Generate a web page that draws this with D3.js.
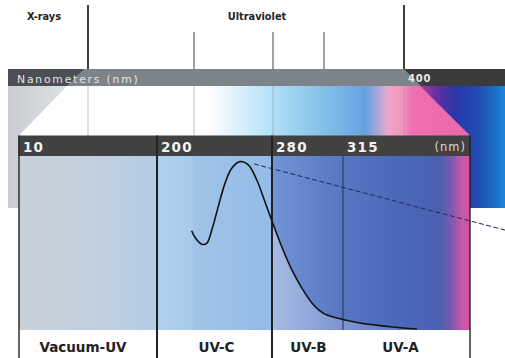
<!DOCTYPE html>
<html><head><meta charset="utf-8">
<script src="https://cdn.jsdelivr.net/npm/d3@7"></script>
<style>html,body{margin:0;padding:0;background:#fff;}svg{display:block;}</style>
</head><body>
<script>
// ---- data ----
const boundaries = [10, 200, 280, 315, 400];          // nm
const headerLabels = ["10", "200", "280", "315"];
const unitLabel = "(nm)";
const bandNames = ["Vacuum-UV", "UV-C", "UV-B", "UV-A"];
const regionNames = ["X-rays", "Ultraviolet"];
const barTitle = "Nanometers (nm)";
const barEndLabel = "400";
// solid absorption curve (nm, relative value)
const curveNm  = [224.1, 226.4, 231.1, 234.6, 238.1, 242.6, 247.3, 252.0, 257.7, 263.5, 269.4, 275.1, 280.1, 284.8, 289.8, 294.8, 300.5, 305.4, 312.0, 326.4, 348.5, 364.5];
const curveVal = [0.567, 0.530, 0.490, 0.495, 0.571, 0.705, 0.838, 0.924, 0.962, 0.943, 0.857, 0.733, 0.619, 0.476, 0.343, 0.238, 0.143, 0.095, 0.069, 0.040, 0.017, 0.006];
// dashed straight line
const dashNm  = [267.5, 423.4];
const dashVal = [0.949, 0.571];

// ---- setup ----
const W = 505, H = 358;
const svg = d3.select("body").append("svg").attr("width", W).attr("height", H);
const defs = svg.append("defs");

const xTop = d3.scaleLinear().domain(boundaries).range([88, 194, 273, 324, 404]);
const xIn  = d3.scaleLinear().domain(boundaries).range([19, 157, 272, 343, 470]);
const y    = d3.scaleLinear().domain([0, 1]).range([330, 155]);

function grad(id, x1, x2, stops) {
  const g = defs.append("linearGradient").attr("id", id)
    .attr("gradientUnits", "userSpaceOnUse").attr("x1", x1).attr("x2", x2).attr("y1", 0).attr("y2", 0);
  stops.forEach(s => g.append("stop").attr("offset", (s[0] - x1) / (x2 - x1)).attr("stop-color", s[1]).attr("stop-opacity", s[2] == null ? 1 : s[2]));
}
const L = 8, R = W;
const barTop = 69, barBot = 86, bandBot = 208, headTop = 135.5, headBot = 156;

grad("band", L, R, [[L,"#ffffff"],[208,"#ffffff"],[270,"#b4e2f8"],[285,"#a4d8f2"],[330,"#80bce8"],[366,"#68a0e0"],[378,"#a8a8d8"],[388,"#f0a8cc"],[403,"#f292c0"],[412,"#f070b0"],[R,"#e860a8"]]);
grad("rwedge", 420, R, [[420,"#b83898"],[438,"#6030a0"],[455,"#2a36a8"],[475,"#2248b0"],[492,"#1a68c0"],[R,"#1888d8"]]);
grad("lwedge", L, 67, [[L,"#c9cdd2"],[67,"#dde0e4"]]);
grad("box", 19, 470, [[19,"#c9d0d8"],[90,"#c2d0de"],[155,"#b4cce6"],[157,"#b0d0ee"],[192,"#a8cbec"],[193,"#a0c4e8"],[270,"#94bce6"],[273,"#7294d4"],[343,"#5676c2"],[400,"#4a68b8"],[440,"#4a60b0"],[452,"#8058b0"],[462,"#c858a8"],[470,"#d850a0"]]);
grad("under", 19, 470, [[19,"#ffffff",0],[272,"#ffffff",0],[273,"#ffffff",0.36],[330,"#ffffff",0.25],[420,"#ffffff",0.1]]);

// spectrum band
svg.append("rect").attr("x", L).attr("y", barBot).attr("width", R - L).attr("height", bandBot - barBot).attr("fill", "url(#band)");
// left wedge
svg.append("path").attr("d", `M${L},${barBot}L67,${barBot}L${xIn(10)},${headTop}L${xIn(10)},${bandBot}L${L},${bandBot}Z`).attr("fill", "url(#lwedge)");
// right wedge
svg.append("path").attr("d", `M420,${barBot}L${R},${barBot}L${R},${bandBot}L${xIn(400)},${bandBot}L${xIn(400)},${headTop}Z`).attr("fill", "url(#rwedge)");

// top gray bar
svg.append("rect").attr("x", L).attr("y", barTop).attr("width", R - L).attr("height", barBot - barTop).attr("fill", "#7d8489");
svg.append("path").attr("d", `M${L},${barTop}L84,${barTop}L67,${barBot}L${L},${barBot}Z`).attr("fill", "#4b4e52");
svg.append("path").attr("d", `M${xTop(400)},${barTop}L${R},${barTop}L${R},${barBot}L${xTop(400)+17},${barBot}Z`).attr("fill", "#3b3b3d");

// top lines
const topMajor = [10, 400], topMinor = [200, 280, 315];
svg.selectAll(".tmaj").data(topMajor).join("line")
  .attr("x1", d => xTop(d)).attr("x2", d => xTop(d)).attr("y1", 5).attr("y2", barTop)
  .attr("stroke", "#2a2a2a").attr("stroke-width", 1.8);
svg.selectAll(".tmin").data(topMinor).join("line")
  .attr("x1", d => xTop(d)).attr("x2", d => xTop(d)).attr("y1", 32).attr("y2", barTop)
  .attr("stroke", "#555").attr("stroke-width", 1.1);
svg.selectAll(".tfaint").data([10, 200, 280, 400]).join("line")
  .attr("x1", d => xTop(d)).attr("x2", d => xTop(d)).attr("y1", barBot).attr("y2", headTop)
  .attr("stroke", "#9aa0a6").attr("stroke-width", 0.8).attr("opacity", 0.8);

// region labels
svg.append("text").attr("x", xTop(10) - 44).attr("y", 19.5).attr("text-anchor", "middle").text(regionNames[0])
  .attr("font-family", "DejaVu Sans").attr("font-weight", "bold").attr("font-size", 9.8).attr("fill", "#222");
svg.append("text").attr("x", (xTop(10) + xTop(400)) / 2 + 11).attr("y", 19.5).attr("text-anchor", "middle").text(regionNames[1])
  .attr("font-family", "DejaVu Sans").attr("font-weight", "bold").attr("font-size", 9.8).attr("fill", "#222");
svg.append("text").attr("x", 17).attr("y", 82.5).text(barTitle)
  .attr("font-family", "DejaVu Sans").attr("font-size", 10.8).attr("letter-spacing", 1.8).attr("fill", "#e4e4e4");
svg.append("text").attr("x", xTop(400) + 4).attr("y", 81.5).text(barEndLabel)
  .attr("font-family", "DejaVu Sans").attr("font-weight", "bold").attr("font-size", 10).attr("letter-spacing", 0.8).attr("fill", "#e8e8e8");

// inner box
svg.append("rect").attr("x", xIn(10)).attr("y", headBot).attr("width", xIn(400) - xIn(10)).attr("height", y(0) - headBot).attr("fill", "url(#box)");

// area under curve
const pts = curveNm.map((n, i) => [n, curveVal[i]]);
svg.append("path").datum(pts)
  .attr("d", d3.area().x(d => xIn(d[0])).y0(y(0)).y1(d => y(d[1])).curve(d3.curveCatmullRom))
  .attr("fill", "url(#under)");

// header
svg.append("rect").attr("x", xIn(10) - 0.5).attr("y", headTop).attr("width", xIn(400) - xIn(10) + 0.5).attr("height", headBot - headTop).attr("fill", "#414141");
svg.selectAll(".hl").data(headerLabels).join("text")
  .attr("x", (d, i) => xIn(boundaries[i]) + 4).attr("y", 151.5).text(d => d)
  .attr("font-family", "DejaVu Sans").attr("font-weight", "bold").attr("font-size", 13.5).attr("letter-spacing", 1.2).attr("fill", "#f2f2f2");
svg.append("text").attr("x", xIn(400) - 4).attr("y", 151).attr("text-anchor", "end").text(unitLabel)
  .attr("font-family", "DejaVu Sans").attr("font-size", 11.5).attr("letter-spacing", 1).attr("fill", "#d8d8d8");

// dividers
svg.selectAll(".dv").data([10, 200, 280, 400]).join("line")
  .attr("x1", d => xIn(d)).attr("x2", d => xIn(d)).attr("y1", headTop).attr("y2", H)
  .attr("stroke", "#222").attr("stroke-width", d => (d === 200 || d === 280) ? 2 : 1.4);
svg.append("line").attr("x1", xIn(315)).attr("x2", xIn(315)).attr("y1", headBot).attr("y2", y(0))
  .attr("stroke", "#2c3a55").attr("stroke-width", 1.1);

// curves
svg.append("path").datum(pts)
  .attr("d", d3.line().x(d => xIn(d[0])).y(d => y(d[1])).curve(d3.curveCatmullRom))
  .attr("fill", "none").attr("stroke", "#111").attr("stroke-width", 1.6);
svg.append("path").datum(dashNm.map((n, i) => [n, dashVal[i]]))
  .attr("d", d3.line().x(d => xIn(d[0])).y(d => y(d[1])))
  .attr("fill", "none").attr("stroke", "#1e2a55").attr("stroke-width", 1).attr("stroke-dasharray", "5,2.5");

// band labels
const bandDx = [-5, 2, 1, -6];
svg.selectAll(".bl").data(bandNames).join("text")
  .attr("x", (d, i) => (xIn(boundaries[i]) + xIn(boundaries[i + 1])) / 2 + bandDx[i]).attr("y", 352)
  .attr("text-anchor", "middle").text(d => d)
  .attr("font-family", "DejaVu Sans").attr("font-weight", "bold").attr("font-size", 13.5).attr("fill", "#222");
</script>
</body></html>
